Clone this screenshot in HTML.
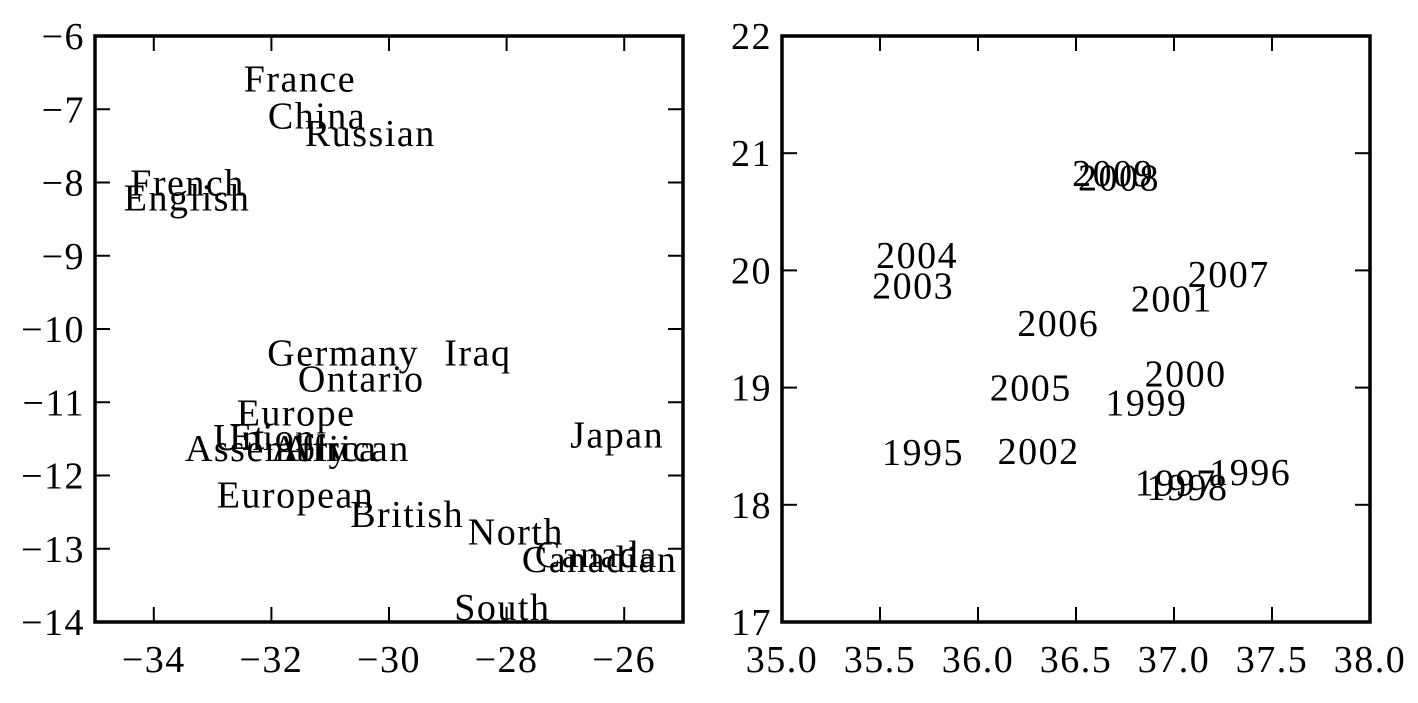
<!DOCTYPE html>
<html><head><meta charset="utf-8"><style>
body{margin:0;background:#fff}
svg text{font-family:"Liberation Serif",serif;fill:#000}
</style></head><body>
<svg id="s" width="1418" height="698" xmlns="http://www.w3.org/2000/svg"></svg>
<script>
const wordLabels=["France","China","Russian","French","English","Germany","Iraq","Ontario","Europe","Et","Union","Assembly","Africa","African","Japan","European","British","North","Canada","Canadian","South"];
const wordX=[-32.47,-32.06,-31.43,-34.40,-34.51,-32.07,-29.06,-31.55,-32.59,-32.72,-32.99,-33.47,-32.0,-31.8,-26.92,-32.93,-30.66,-28.66,-27.52,-27.74,-28.89];
const wordY=[-6.76,-7.26,-7.50,-8.18,-8.38,-10.50,-10.50,-10.85,-11.32,-11.64,-11.65,-11.80,-11.80,-11.80,-11.62,-12.44,-12.70,-12.94,-13.25,-13.32,-13.97];
const yearLabels=["2009","2008","2004","2003","2007","2001","2006","2000","2005","1999","1995","2002","1996","1997","1998"];
const yearX=[36.48,36.51,35.48,35.46,37.07,36.78,36.20,36.85,36.06,36.65,35.51,36.10,37.18,36.80,36.86];
const yearY=[20.72,20.68,20.02,19.76,19.86,19.65,19.44,19.01,18.89,18.76,18.34,18.35,18.17,18.08,18.04];
const leftXTicks=[-34,-32,-30,-28,-26];
const leftYTicks=[-6,-7,-8,-9,-10,-11,-12,-13,-14];
const rightXTicks=[35.0,35.5,36.0,36.5,37.0,37.5,38.0];
const rightYTicks=[17,18,19,20,21,22];
const NS="http://www.w3.org/2000/svg";
const svg=document.getElementById('s');
function el(t,a){const e=document.createElementNS(NS,t);for(const k in a)e.setAttribute(k,a[k]);svg.appendChild(e);return e;}
function panel(p,xT,yT,xFmt,labels,xs,ys,name){
  const sx=v=>p.x0+(v-p.xmin)/(p.xmax-p.xmin)*(p.x1-p.x0);
  const sy=v=>p.y1-(v-p.ymin)/(p.ymax-p.ymin)*(p.y1-p.y0);
  xT.forEach(v=>{const x=sx(v);
    let l=el('line',{x1:x,y1:p.y1,x2:x,y2:p.y1-15,stroke:'#000','stroke-width':2});
    
    
    l=el('line',{x1:x,y1:p.y0,x2:x,y2:p.y0+15,stroke:'#000','stroke-width':2});
    
    
    const t=el('text',{x:x,y:p.y1+50,'font-size':38,'letter-spacing':1.5,'text-anchor':'middle'});
    t.textContent=xFmt(v);
    
    
  });
  yT.forEach(v=>{const y=sy(v);
    let l=el('line',{x1:p.x0,y1:y,x2:p.x0+15,y2:y,stroke:'#000','stroke-width':2});
    
    
    l=el('line',{x1:p.x1,y1:y,x2:p.x1-15,y2:y,stroke:'#000','stroke-width':2});
    
    
    const t=el('text',{x:p.x0-10,y:y+13,'font-size':38,'letter-spacing':1.5,'text-anchor':'end'});
    t.textContent=String(v).replace('-','\u2212');
    
    
  });
  labels.forEach((s,i)=>{
    const t=el('text',{x:sx(xs[i]),y:sy(ys[i]),'font-size':38,'letter-spacing':1.5});
    t.textContent=s;
    
    
  });
  const r=el('rect',{x:p.x0,y:p.y0,width:p.x1-p.x0,height:p.y1-p.y0,fill:'none',stroke:'#000','stroke-width':3.5});
  
  
}
panel({x0:95,x1:683,y0:36,y1:622,xmin:-35,xmax:-25,ymin:-14,ymax:-6},leftXTicks,leftYTicks,v=>String(v).replace('-','\u2212'),wordLabels,wordX,wordY,'left-plot');
panel({x0:782,x1:1370,y0:36,y1:622,xmin:35,xmax:38,ymin:17,ymax:22},rightXTicks,rightYTicks,v=>v.toFixed(1),yearLabels,yearX,yearY,'right-plot');
</script>
</body></html>
